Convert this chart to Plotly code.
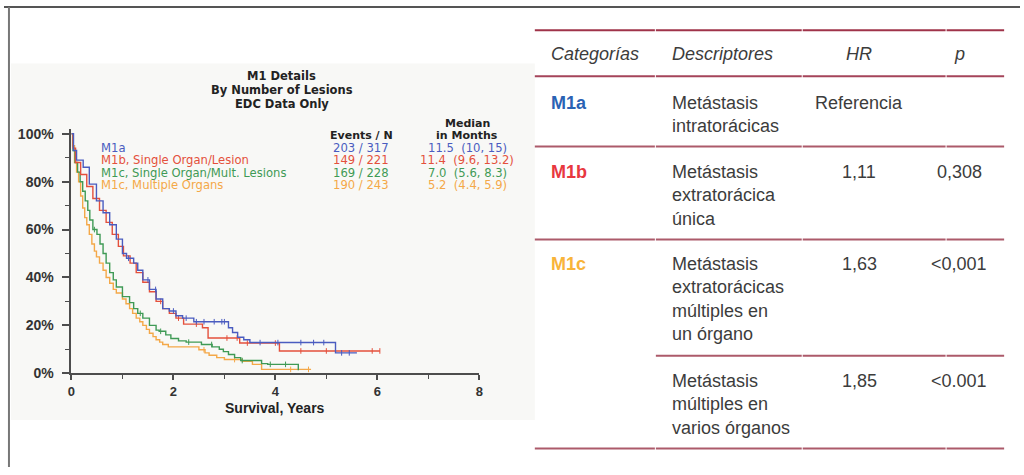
import numpy as np
import plotly.graph_objects as go

W, H = 1024, 475

# ---- Kaplan-Meier curves (time in years, survival in %) ----
m1a_t = [0, 0.04, 0.10, 0.23, 0.35, 0.49, 0.62, 0.75, 0.88, 1.00, 1.08, 1.22, 1.30, 1.40, 1.53,
         1.66, 1.79, 1.92, 2.05, 2.18, 2.40, 3.08, 3.16, 3.26, 3.38, 3.50, 5.18, 5.60]
m1a_s = [100, 93, 89, 86, 79, 72, 67, 62, 56, 50, 48, 46, 43, 39, 35,
         31, 27, 26, 24, 23, 21.5, 19, 17, 15, 14, 12.8, 8.5, 8.5]

m1b_t = [0, 0.03, 0.08, 0.18, 0.30, 0.42, 0.55, 0.68, 0.80, 0.92, 1.02, 1.15, 1.27, 1.40, 1.53,
         1.66, 1.79, 1.92, 2.05, 2.20, 2.57, 2.68, 3.30, 4.08, 6.05]
m1b_s = [100, 94, 88, 83, 78, 73, 68, 63, 58, 53, 49, 46, 42, 38, 34,
         30, 27, 25, 23, 20.5, 19, 14.7, 12.6, 9.3, 9.3]

m1c_single_t = [0, 0.03, 0.07, 0.12, 0.17, 0.22, 0.27, 0.32, 0.36, 0.42, 0.50, 0.56, 0.62, 0.68,
                0.75, 0.82, 0.88, 1.00, 1.14, 1.22, 1.30, 1.40, 1.53, 1.66, 1.72, 1.85, 1.95,
                2.10, 2.25, 2.55, 2.76, 2.90, 2.98, 3.08, 3.20, 3.32, 3.73, 3.85, 4.45]
m1c_single_s = [100, 93, 88, 84, 80, 76, 72, 68, 64, 60, 58, 54, 50, 46,
                42, 39, 36, 32, 29.5, 27, 25, 23, 20, 18, 17.5, 16, 14.5,
                13.5, 13, 12, 11, 10, 9, 7.8, 6.5, 5.3, 4, 3.7, 1.2]

m1c_multi_t = [0, 0.02, 0.06, 0.10, 0.14, 0.18, 0.22, 0.26, 0.30, 0.35, 0.40, 0.45, 0.49, 0.55,
               0.62, 0.68, 0.75, 0.82, 0.88, 1.00, 1.07, 1.14, 1.20, 1.27, 1.34, 1.40, 1.47,
               1.53, 1.60, 1.66, 1.73, 1.79, 1.90, 2.50, 2.62, 2.70, 2.85, 3.00, 3.35, 3.55,
               3.73, 4.70]
m1c_multi_s = [100, 95, 88, 84, 80, 74, 69, 65, 62, 58, 54, 51, 48.6, 46,
               43, 40, 37.6, 35, 33.5, 31, 29, 27, 25, 23, 21.5, 20, 18.3,
               16.7, 15.3, 14, 13, 12, 11, 9.8, 8.5, 7.5, 6.5, 5.7, 5, 3.7,
               1.6, 1.6]

# censored observations (years)
m1a_cens = [1.12, 1.5, 1.65, 2.0, 2.25, 2.45, 2.6, 2.8, 2.95, 3.0, 3.7, 4.05, 4.5, 4.75, 4.95, 5.3, 5.45]
m1b_cens = [1.75, 2.1, 2.45, 3.05, 3.25, 3.45, 4.0, 4.5, 5.0, 5.9, 6.05]
m1c_single_cens = [0.45, 1.35, 1.75, 2.3, 2.75, 3.35, 3.9, 4.2]
m1c_multi_cens = [2.6, 3.2, 4.3, 4.65]

# ---- legend block of the survival chart ----
group_names = ["M1a", "M1b, Single Organ/Lesion", "M1c, Single Organ/Mult. Lesions", "M1c, Multiple Organs"]
events_n = ["203 / 317", "149 / 221", "169 / 228", "190 / 243"]
median_months = ["11.5  (10, 15)", "11.4  (9.6, 13.2)", "7.0  (5.6, 8.3)", "5.2  (4.4, 5.9)"]
curve_colors = ["#4a5cc0", "#e4503c", "#3f9a55", "#f4a848"]

chart_title = ["M1 Details", "By Number of Lesions", "EDC Data Only"]
y_ticks = [0, 20, 40, 60, 80, 100]
y_tick_text = ["0%", "20%", "40%", "60%", "80%", "100%"]
x_ticks = [0, 2, 4, 6, 8]

# ---- classification table ----
header = ["Categorías", "Descriptores", "HR", "p"]
categories = ["M1a", "M1b", "M1c", ""]
category_colors = ["#2a62b4", "#e8383f", "#f8b43a", "#f8b43a"]
descriptors = [
    ["Metástasis", "intratorácicas"],
    ["Metástasis", "extratorácica", "única"],
    ["Metástasis", "extratorácicas", "múltiples en", "un órgano"],
    ["Metástasis", "múltiples en", "varios órganos"],
]
hr_values = ["Referencia", "1,11", "1,63", "1,85"]
p_values = ["", "0,308", "<0,001", "<0.001"]


def px(x):
    return x / W


def py(y):
    return 1 - y / H


def step_value(ts, ss, t):
    i = np.searchsorted(np.asarray(ts), t, side="right") - 1
    return ss[max(i, 0)]


fig = go.Figure()

series = [
    (m1a_t, m1a_s, m1a_cens),
    (m1b_t, m1b_s, m1b_cens),
    (m1c_single_t, m1c_single_s, m1c_single_cens),
    (m1c_multi_t, m1c_multi_s, m1c_multi_cens),
]
# draw the multiple-organ curve first so the others sit on top
for idx in [3, 2, 1, 0]:
    ts, ss, cens = series[idx]
    col = curve_colors[idx]
    fig.add_trace(go.Scatter(x=ts, y=ss, mode="lines", line=dict(color=col, width=1.4, shape="hv"),
                             showlegend=False, hoverinfo="skip"))
    cy = [step_value(ts, ss, c) for c in cens]
    fig.add_trace(go.Scatter(x=cens, y=cy, mode="markers",
                             marker=dict(symbol="line-ns", size=4, line=dict(color=col, width=1)),
                             showlegend=False, hoverinfo="skip"))

axis_col = "#4d4d4d"
sans = "Liberation Sans, Arial, sans-serif"
wide = "DejaVu Sans, sans-serif"

fig.update_xaxes(
    domain=[px(68), px(479)], range=[0, 8], tickmode="array", tickvals=x_ticks, ticks="outside",
    ticklen=5, tickwidth=1.5, tickcolor=axis_col, showline=True, linecolor=axis_col, linewidth=2,
    showgrid=False, zeroline=False, ticklabelstandoff=0,
    tickfont=dict(family=sans, size=13, color="#333333", weight="bold"),
    minor=dict(dtick=1, ticks="outside", ticklen=4, tickcolor=axis_col, tickwidth=1.2, showgrid=False),
)
fig.update_yaxes(
    domain=[py(379), py(129)], range=[0, 102], tickmode="array", tickvals=y_ticks, ticktext=y_tick_text,
    ticks="outside", ticklen=7, tickwidth=1.5, tickcolor=axis_col, showline=True, linecolor=axis_col,
    linewidth=2, showgrid=False, zeroline=False, ticklabelstandoff=6,
    tickfont=dict(family=sans, size=14, color="#333333", weight="bold"),
    minor=dict(dtick=10, ticks="outside", ticklen=4, tickcolor=axis_col, tickwidth=1.2, showgrid=False),
)

shapes = []
# light panel behind the survival chart
shapes.append(dict(type="rect", xref="paper", yref="paper", x0=px(7), x1=px(535), y0=py(427), y1=py(62),
                   fillcolor="#f8f8f6", line=dict(width=0), layer="below"))
# page frame
shapes.append(dict(type="line", xref="paper", yref="paper", x0=0, x1=1, y0=py(4), y1=py(4),
                   line=dict(color="#555555", width=2)))
shapes.append(dict(type="line", xref="paper", yref="paper", x0=px(5), x1=px(5), y0=py(4), y1=0,
                   line=dict(color="#777777", width=2)))

# table rules (segmented by column)
col_edges = [(535, 656), (657, 804), (805, 949), (950, 1008)]
rules = [(28, 0, "#9f3349"), (75, 0, "#a5445a"), (147, 0, "#ac5a6a"), (242, 0, "#ac5a6a"),
         (361, 1, "#ac5a6a"), (456, 0, "#ac5a6a")]
for yy, start_col, rc in rules:
    for a, b in col_edges[start_col:]:
        shapes.append(dict(type="line", xref="paper", yref="paper", x0=px(a), x1=px(b),
                           y0=py(yy), y1=py(yy), line=dict(color=rc, width=2)))

annotations = []


def label(text, x, y, size, color="#333333", anchor="center", family=sans, weight="normal", italic=False):
    t = f"<i>{text}</i>" if italic else text
    annotations.append(dict(text=t, x=px(x), y=py(y), xref="paper", yref="paper", xanchor=anchor,
                            yanchor="middle", showarrow=False, borderpad=0,
                            font=dict(family=family, size=size, color=color, weight=weight)))


# chart titles
for i, line in enumerate(chart_title):
    label(line, 280, 75 + 14 * i, 11.5, color="#222222", family=wide, weight="bold")

# chart legend block
label("Events / N", 360, 136, 11, color="#222222", family=wide, weight="bold")
label("Median", 467, 123, 11, color="#222222", family=wide, weight="bold")
label("in Months", 467, 136, 11, color="#222222", family=wide, weight="bold")
for i in range(4):
    yy = 148 + 12.9 * i
    label(group_names[i], 97, yy, 11.6, color=curve_colors[i], anchor="left", family=wide)
    label(events_n[i], 360, yy, 11.6, color=curve_colors[i], family=wide)
    label(median_months[i], 467, yy, 11.6, color=curve_colors[i], family=wide)

label("Survival, Years", 273, 415, 14, color="#222222", weight="bold")

# table header
tcol = "#3c3c3c"
label(header[0], 550, 52, 18, color=tcol, anchor="left", italic=True)
label(header[1], 672, 52, 18, color=tcol, anchor="left", italic=True)
label(header[2], 862, 52, 18, color=tcol, italic=True)
label(header[3], 963, 52, 18, color=tcol, italic=True)

row_first_line = [102, 173, 267, 387]
line_step = 24
for r in range(4):
    y0 = row_first_line[r]
    if categories[r]:
        label(categories[r], 550, y0, 18, color=category_colors[r], anchor="left", weight="bold")
    for k, line in enumerate(descriptors[r]):
        label(line, 672, y0 + line_step * k, 18, color=tcol, anchor="left")
    label(hr_values[r], 862, y0, 18, color=tcol)
    if p_values[r]:
        label(p_values[r], 963, y0, 18, color=tcol)

fig.update_layout(
    width=W, height=H, margin=dict(l=0, r=0, t=0, b=0),
    paper_bgcolor="white", plot_bgcolor="rgba(0,0,0,0)",
    shapes=shapes, annotations=annotations, showlegend=False,
)

fig.write_html("out.html")
